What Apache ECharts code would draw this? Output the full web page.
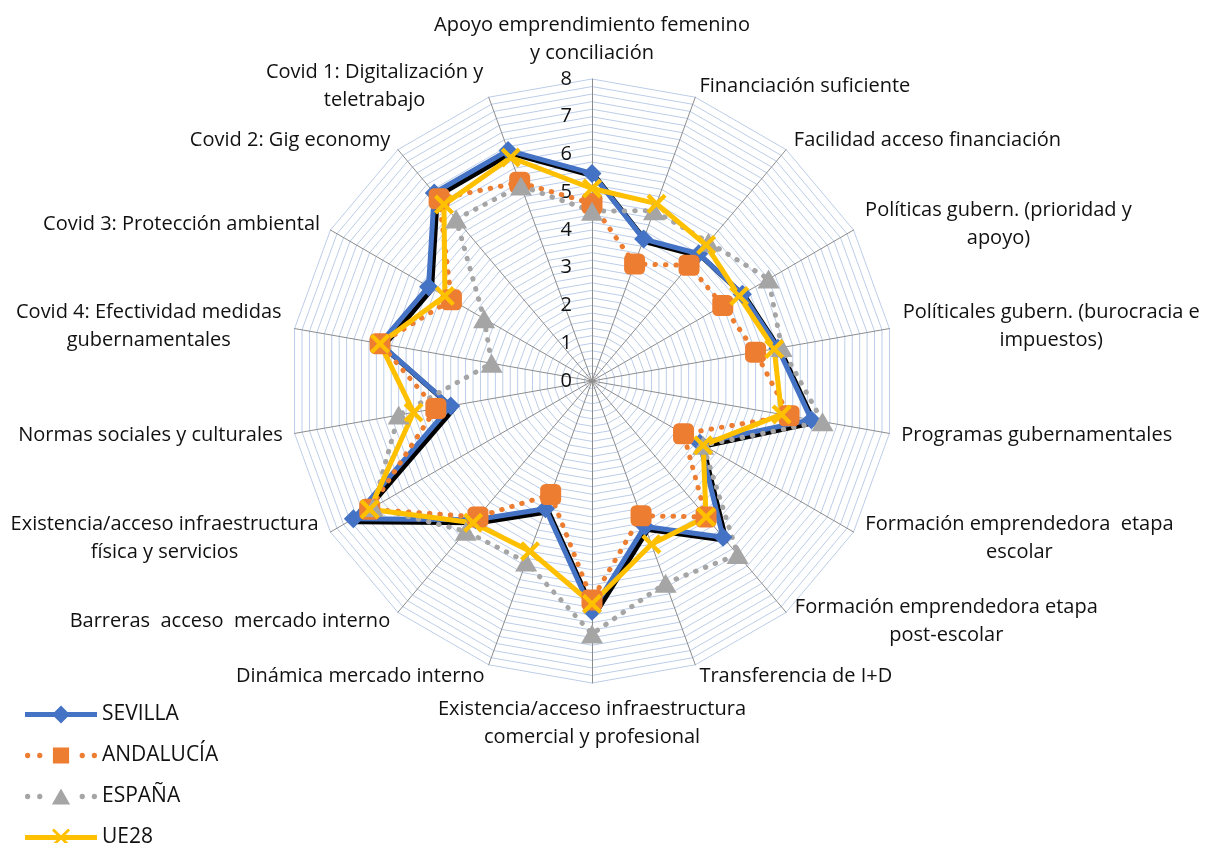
<!DOCTYPE html>
<html>
<head>
<meta charset="utf-8">
<script src="https://cdn.jsdelivr.net/npm/echarts@6/dist/echarts.min.js"></script>
<style>
  html, body { margin: 0; padding: 0; background: #fff; }
  #chart { width: 1213px; height: 843px; }
</style>
</head>
<body>
<div id="chart"></div>
<script>
// categories, clockwise from the top
var categories = [
  'Apoyo emprendimiento femenino\ny conciliación',
  'Financiación suficiente',
  'Facilidad acceso financiación',
  'Políticas gubern. (prioridad y\napoyo)',
  'Políticales gubern. (burocracia e\nimpuestos)',
  'Programas gubernamentales',
  'Formación emprendedora  etapa\nescolar',
  'Formación emprendedora etapa\npost-escolar',
  'Transferencia de I+D',
  'Existencia/acceso infraestructura\ncomercial y profesional',
  'Dinámica mercado interno',
  'Barreras  acceso  mercado interno',
  'Existencia/acceso infraestructura\nfísica y servicios',
  'Normas sociales y culturales',
  'Covid 4: Efectividad medidas\ngubernamentales',
  'Covid 3: Protección ambiental',
  'Covid 2: Gig economy',
  'Covid 1: Digitalización y\nteletrabajo'
];

var sevilla   = [5.5, 4.0, 4.4, 4.6, 5.0, 5.9, 3.3, 5.4, 4.1, 6.1, 3.6, 4.8, 7.3, 3.8, 5.7, 5.0, 6.5, 6.5];
var andalucia = [4.7, 3.3, 4.0, 4.0, 4.4, 5.3, 2.8, 4.7, 3.8, 5.8, 3.2, 4.7, 6.8, 4.2, 5.7, 4.3, 6.3, 5.6];
var espana    = [4.5, 4.8, 4.8, 5.4, 5.1, 6.2, 3.4, 6.0, 5.7, 6.7, 5.1, 5.2, 6.7, 5.2, 2.7, 3.3, 5.6, 5.5];
var ue28      = [5.1, 5.0, 4.7, 4.5, 4.9, 5.1, 3.4, 4.7, 4.6, 5.9, 4.8, 4.9, 6.8, 4.8, 5.7, 4.5, 6.1, 6.3];

var axisMax = 8;

// radar goes counter-clockwise, so keep the first and flip the rest
var ccw = function (arr) { return [arr[0]].concat(arr.slice(1).reverse()); };

var fontFam = '"Open Sans", sans-serif';
var nameSize = 20;
var xPath = 'path://M0,3 L3,0 L10,7 L17,0 L20,3 L13,10 L20,17 L17,20 L10,13 L3,20 L0,17 L7,10 Z';

// legend icons: line + marker, in a 72x18 box
var dot = function (cx) { return 'M' + (cx - 2.6) + ',9 a2.6,2.6 0 1,0 5.2,0 a2.6,2.6 0 1,0 -5.2,0 '; };
var dots = dot(3) + dot(15) + dot(57) + dot(69);
var iconSev = 'path://M0,6.5 L72,6.5 L72,11.5 L0,11.5 Z M36,0 L45,9 L36,18 L27,9 Z';
var iconAnd = 'path://' + dots + 'M28,1 L44,1 L44,17 L28,17 Z';
var iconEsp = 'path://' + dots + 'M36,1 L45,17 L27,17 Z';
var iconUe = 'path://M0,6.5 L72,6.5 L72,11.5 L0,11.5 Z M27,2 L29,0 L36,7 L43,0 L45,2 L38,9 L45,16 L43,18 L36,11 L29,18 L27,16 L34,9 Z';

// multi-line names: centre the lines inside the block
var ctx = document.createElement('canvas').getContext('2d');
ctx.font = nameSize + 'px ' + fontFam;
var rich = {};
var nameKey = {};
categories.forEach(function (c, i) {
  var lines = c.split('\n');
  if (lines.length > 1) {
    var w = Math.max.apply(null, lines.map(function (l) { return ctx.measureText(l).width; }));
    rich['n' + i] = { width: Math.ceil(w) + 2, align: 'center', fontSize: nameSize, lineHeight: 28, color: '#111', fontFamily: fontFam };
    nameKey[c] = 'n' + i;
  }
});

var indicators = ccw(categories).map(function (c, i) {
  var ind = { name: c, min: 0, max: axisMax };
  if (i === 0) {
    ind.axisLabel = {
      show: true,
      color: '#111',
      fontSize: 20,
      fontFamily: fontFam,
      margin: 20,
      formatter: function (v) {
        return Math.abs(v - Math.round(v)) < 1e-6 ? String(Math.round(v)) : '';
      }
    };
  }
  return ind;
});

var myChart = echarts.init(document.getElementById('chart'));
var option = {
  animation: false,
  legend: {
    orient: 'vertical',
    left: 20,
    top: 699,
    height: 300,
    itemWidth: 72,
    itemHeight: 18,
    itemGap: 20,
    textStyle: { color: '#111', fontSize: 21, fontFamily: fontFam },
    data: [
      { name: 'SEVILLA', icon: iconSev },
      { name: 'ANDALUCÍA', icon: iconAnd },
      { name: 'ESPAÑA', icon: iconEsp },
      { name: 'UE28', icon: iconUe }
    ]
  },
  radar: {
    center: [592, 381],
    radius: 302,
    startAngle: 90,
    shape: 'polygon',
    splitNumber: 40,
    nameGap: 12,
    axisName: {
      color: '#111', fontSize: nameSize, fontFamily: fontFam, lineHeight: 28,
      rich: rich,
      formatter: function (name) {
        var k = nameKey[name];
        if (!k) return name;
        return name.split('\n').map(function (l) { return '{' + k + '|' + l + '}'; }).join('\n');
      }
    },
    axisLine: { lineStyle: { color: '#8c8c8c', width: 1 } },
    splitLine: { lineStyle: { color: '#bccde9', width: 1 } },
    splitArea: { show: false },
    axisLabel: { show: false },
    indicator: indicators
  },
  series: [{
    type: 'radar',
    data: [
      {
        name: 'SEVILLA', value: ccw(sevilla),
        symbol: 'diamond', symbolSize: 19,
        itemStyle: { color: '#4472C4' },
        lineStyle: { color: '#4472C4', width: 5, shadowColor: '#000', shadowOffsetX: 3, shadowOffsetY: 3, shadowBlur: 0 }
      },
      {
        name: 'ANDALUCÍA', value: ccw(andalucia),
        symbol: 'roundRect', symbolSize: 21,
        itemStyle: { color: '#ED7D31' },
        lineStyle: { color: '#ED7D31', width: 5, type: [0.5, 10], cap: 'round' }
      },
      {
        name: 'ESPAÑA', value: ccw(espana),
        symbol: 'triangle', symbolSize: [22, 19],
        itemStyle: { color: '#A5A5A5' },
        lineStyle: { color: '#A5A5A5', width: 5, type: [0.5, 10], cap: 'round' }
      },
      {
        name: 'UE28', value: ccw(ue28),
        symbol: xPath, symbolSize: 20,
        itemStyle: { color: '#FFC000' },
        lineStyle: { color: '#FFC000', width: 5 }
      }
    ]
  }]
};
myChart.setOption(option);
</script>
</body>
</html>
